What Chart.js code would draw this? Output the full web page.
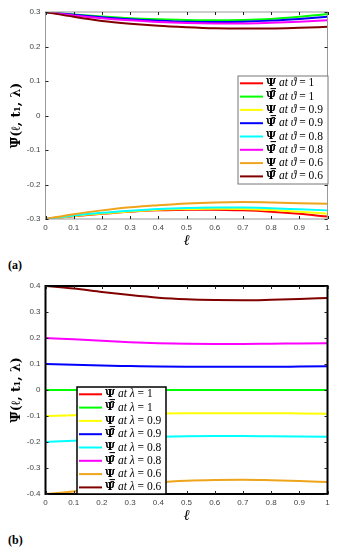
<!DOCTYPE html>
<html>
<head>
<meta charset="utf-8">
<script src="https://cdn.jsdelivr.net/npm/chart.js@4.4.0/dist/chart.umd.min.js"></script>
<style>
	body { margin: 0; background: #fff; width: 337px; height: 550px; position: relative; overflow: hidden; }
	.panel { position: absolute; left: 0; width: 337px; height: 250px; }
	.tag { position: absolute; left: 8px; font: bold 12px 'Liberation Serif', serif; color: #000; }
</style>
</head>
<body>
<div class="panel" style="top:0"><canvas id="chartA" width="337" height="250"></canvas></div>
<div class="tag" style="top:258px">(a)</div>
<div class="panel" style="top:275px"><canvas id="chartB" width="337" height="250"></canvas></div>
<div class="tag" style="top:533px">(b)</div>
<script>
(function () {
	'use strict';

	// shared x grid (ℓ) and tick labels
	var ell = [0, 0.1, 0.2, 0.3, 0.4, 0.5, 0.6, 0.7, 0.8, 0.9, 1];
	var xTicks = ['0', '0.1', '0.2', '0.3', '0.4', '0.5', '0.6', '0.7', '0.8', '0.9', '1'];
	var yTicksA = ['-0.3', '-0.2', '-0.1', '0', '0.1', '0.2', '0.3'];
	var yTicksB = ['-0.4', '-0.3', '-0.2', '-0.1', '0', '0.1', '0.2', '0.3', '0.4'];

	var seriesColors = ['#ff0000', '#00ff00', '#ffff00', '#0000ff', '#00ffff', '#ff00ff', '#eea51c', '#800000'];
	var seriesSyms = ['Ψ\u0332', 'Ψ\u0304', 'Ψ\u0332', 'Ψ\u0304', 'Ψ\u0332', 'Ψ\u0304', 'Ψ\u0332', 'Ψ\u0304'];
	var seriesOrders = ['1', '1', '0.9', '0.9', '0.8', '0.8', '0.6', '0.6'];

	// (a) varying ϑ
	var aLow1 = [-0.3, -0.292, -0.285, -0.279, -0.275, -0.273, -0.273, -0.275, -0.279, -0.285, -0.293];
	var aUp1 = [0.3, 0.293, 0.287, 0.282, 0.279, 0.277, 0.276, 0.277, 0.280, 0.286, 0.294];
	var aLow09 = [-0.3, -0.291, -0.284, -0.278, -0.273, -0.271, -0.270, -0.271, -0.274, -0.279, -0.285];
	var aUp09 = [0.3, 0.292, 0.285, 0.279, 0.275, 0.272, 0.271, 0.272, 0.275, 0.280, 0.286];
	var aLow08 = [-0.3, -0.290, -0.282, -0.276, -0.271, -0.268, -0.267, -0.267, -0.269, -0.272, -0.275];
	var aUp08 = [0.3, 0.290, 0.282, 0.276, 0.271, 0.268, 0.267, 0.267, 0.269, 0.272, 0.276];
	var aLow06 = [-0.3, -0.286, -0.275, -0.266, -0.260, -0.255, -0.252, -0.251, -0.252, -0.254, -0.256];
	var aUp06 = [0.3, 0.286, 0.274, 0.266, 0.260, 0.256, 0.253, 0.252, 0.252, 0.254, 0.257];

	// (b) varying λ
	var bLow1 = [0, 0, 0, 0, 0, 0, 0, 0, 0, 0, 0];
	var bUp1 = [0, 0, 0, 0, 0, 0, 0, 0, 0, 0, 0];
	var bLow09 = [-0.1, -0.097, -0.094, -0.092, -0.090, -0.089, -0.089, -0.089, -0.089, -0.090, -0.091];
	var bUp09 = [0.1, 0.097, 0.094, 0.092, 0.090, 0.089, 0.089, 0.089, 0.089, 0.090, 0.091];
	var bLow08 = [-0.2, -0.195, -0.189, -0.184, -0.180, -0.178, -0.177, -0.177, -0.178, -0.179, -0.180];
	var bUp08 = [0.2, 0.195, 0.189, 0.184, 0.180, 0.178, 0.177, 0.177, 0.178, 0.179, 0.180];
	var bLow06 = [-0.4, -0.390, -0.377, -0.365, -0.355, -0.349, -0.346, -0.345, -0.347, -0.350, -0.354];
	var bUp06 = [0.4, 0.390, 0.377, 0.365, 0.355, 0.349, 0.346, 0.345, 0.347, 0.350, 0.354];

	var serif = '"Liberation Serif", "DejaVu Serif", serif';
	var symFont = '"DejaVu Serif", serif';

	function buildSets(list, varName) {
		return list.map(function (arr, i) {
			return {
				label: seriesSyms[i] + ' at ' + varName + ' = ' + seriesOrders[i],
				sym: seriesSyms[i],
				varName: varName,
				fracOrder: seriesOrders[i],
				order: -i, // later series on top, as in the figure
				data: ell.map(function (x, j) { return { x: x, y: arr[j] }; }),
				borderColor: seriesColors[i],
				backgroundColor: seriesColors[i],
				borderWidth: 2,
				pointRadius: 0,
				fill: false,
				cubicInterpolationMode: 'monotone',
			};
		});
	}

	// MATLAB-like box with inward ticks
	function framePlugin(color, width) {
		return {
			id: 'matFrame',
			afterDatasetsDraw: function (chart) {
				var ctx = chart.ctx;
				var a = chart.chartArea;
				var xs = chart.scales.x;
				var ys = chart.scales.y;
				var tl = 3;
				ctx.save();
				ctx.strokeStyle = color;
				ctx.lineWidth = width;
				ctx.strokeRect(a.left, a.top, a.right - a.left, a.bottom - a.top);
				ctx.strokeStyle = '#222';
				ctx.lineWidth = 1;
				ctx.beginPath();
				xs.ticks.forEach(function (t) {
					var px = Math.round(xs.getPixelForValue(t.value)) + 0.5;
					ctx.moveTo(px, a.bottom); ctx.lineTo(px, a.bottom - tl);
					ctx.moveTo(px, a.top); ctx.lineTo(px, a.top + tl);
				});
				ys.ticks.forEach(function (t) {
					var py = Math.round(ys.getPixelForValue(t.value)) + 0.5;
					ctx.moveTo(a.left, py); ctx.lineTo(a.left + tl, py);
					ctx.moveTo(a.right, py); ctx.lineTo(a.right - tl, py);
				});
				ctx.stroke();
				ctx.restore();
			},
		};
	}

	function legendPlugin(box) {
		return {
			id: 'boxLegend',
			afterDraw: function (chart) {
				var ctx = chart.ctx;
				ctx.save();
				ctx.fillStyle = '#fff';
				ctx.fillRect(box.x, box.y, box.w, box.h);
				ctx.strokeStyle = box.border;
				ctx.lineWidth = box.lw;
				ctx.strokeRect(box.x, box.y, box.w, box.h);
				ctx.textBaseline = 'middle';
				ctx.fillStyle = '#000';
				chart.data.datasets.forEach(function (ds, i) {
					var y = box.rowY + i * box.dy;
					ctx.strokeStyle = ds.borderColor;
					ctx.lineWidth = 2;
					ctx.beginPath();
					ctx.moveTo(box.x + 2, y);
					ctx.lineTo(box.x + 25, y);
					ctx.stroke();
					var x = box.x + 28;
					var parts = [
						[ds.sym, 'bold 11px ' + symFont],
						[' at ', 'italic 11.5px ' + serif],
						[ds.varName, 'italic 11.5px ' + serif],
						[' = ' + ds.fracOrder, '11.5px ' + serif],
					];
					parts.forEach(function (p) {
						ctx.font = p[1];
						ctx.fillText(p[0], x, y);
						x += ctx.measureText(p[0]).width;
					});
				});
				ctx.restore();
			},
		};
	}

	function makeOpts(yMin, yMax, yLabels, padTop) {
		return {
			responsive: false,
			animation: false,
			devicePixelRatio: 1,
			layout: { padding: { top: padTop, right: 9.5, left: 0, bottom: 0 } },
			plugins: { legend: { display: false }, tooltip: { enabled: false } },
			scales: {
				x: {
					type: 'linear',
					min: 0,
					max: 1,
					grid: { display: false, drawTicks: false },
					border: { display: false },
					ticks: {
						stepSize: 0.1,
						padding: 4,
						color: '#444',
						font: { family: 'Liberation Sans', size: 8 },
						maxRotation: 0,
						callback: function (v, i) { return xTicks[i]; },
					},
					title: {
						display: true,
						text: 'ℓ',
						color: '#000',
						font: { family: serif, size: 15, style: 'italic' },
						padding: { top: 0, bottom: 0 },
					},
					afterFit: function (s) { s.height = 31; },
				},
				y: {
					min: yMin,
					max: yMax,
					grid: { display: false, drawTicks: false },
					border: { display: false },
					ticks: {
						stepSize: 0.1,
						padding: 5,
						color: '#444',
						font: { family: 'Liberation Sans', size: 8 },
						callback: function (v, i) { return yLabels[i]; },
					},
					title: {
						display: true,
						text: 'Ψ\u0304(ℓ, t\u2081, λ)',
						color: '#000',
						font: { family: symFont, size: 12.5, weight: 'bold' },
						padding: { top: 9, bottom: 0 },
					},
					afterFit: function (s) { s.width = 45.5; },
				},
			},
		};
	}

	new Chart(document.getElementById('chartA'), {
		type: 'line',
		data: { datasets: buildSets([aLow1, aUp1, aLow09, aUp09, aLow08, aUp08, aLow06, aUp06], 'ϑ') },
		options: makeOpts(-0.3, 0.3, yTicksA, 12),
		plugins: [
			framePlugin('#999', 1),
			legendPlugin({ x: 238, y: 76, w: 90, h: 108, border: '#777', lw: 1, rowY: 83.3, dy: 13.3 }),
		],
	});

	new Chart(document.getElementById('chartB'), {
		type: 'line',
		data: { datasets: buildSets([bLow1, bUp1, bLow09, bUp09, bLow08, bUp08, bLow06, bUp06], 'λ') },
		options: makeOpts(-0.4, 0.4, yTicksB, 11),
		plugins: [
			framePlugin('#000', 2),
			legendPlugin({ x: 77, y: 112, w: 89, h: 107, border: '#000', lw: 1.5, rowY: 119.3, dy: 13.3 }),
		],
	});
})();
</script>
</body>
</html>
